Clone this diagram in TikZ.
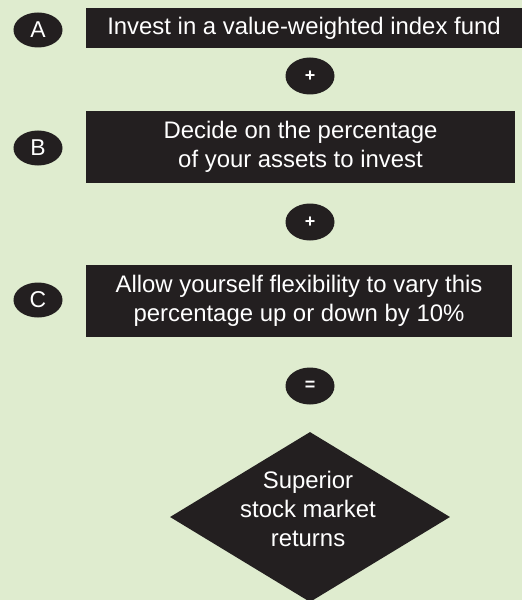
\documentclass[tikz,border=0pt]{standalone}
\usepackage{fontspec}
\setmainfont{Liberation Sans}
\usetikzlibrary{shapes.geometric}
\definecolor{paper}{RGB}{223,236,207}
\definecolor{ink}{RGB}{35,31,32}
\tikzset{
  stepbox/.style={fill=ink, text=white, align=center, inner sep=0pt,
    minimum height=#1, font=\fontsize{24}{29}\selectfont},
  stepbox/.default=40bp,
  tag/.style={ellipse, fill=ink, text=white, inner sep=0pt,
    minimum width=49bp, minimum height=35bp, font=\fontsize{23}{26}\selectfont},
  sign/.style={ellipse, fill=ink, text=white, inner sep=0pt,
    minimum width=49bp, minimum height=37bp, font=\fontsize{18}{20}\selectfont\bfseries},
}
\begin{document}
\begin{tikzpicture}[x=1bp,y=-1bp]
	% Background
	\fill [paper] (0,0) rectangle (522,600);
	\useasboundingbox (0,0) rectangle (522,600);
	% Steps
	\node [stepbox, minimum width=436bp] (stepA) at (304,28) {Invest in a value-weighted index fund};
	\node [stepbox=72bp, minimum width=429bp] (stepB) at (300.5,147) {Decide on the percentage\\of your assets to invest};
	\node [stepbox=72bp, minimum width=426bp] (stepC) at (299,301) {Allow yourself flexibility to vary this\\percentage up or down by 10\%};
	% Letters
	\node [tag] (tagA) at (38,30) {A};
	\node [tag] (tagB) at (38,148) {B};
	\node [tag] (tagC) at (38,300) {C};
	% Signs
	\node [sign] (plusA) at (310,76) {+};
	\node [sign] (plusB) at (310,222) {+};
	\node [sign] (equal) at (310,386) {=};
	% Result
	\node [diamond, fill=ink, inner sep=0pt, minimum width=280bp, minimum height=170bp] (goal) at (310,517) {};
	\node [text=white, align=center, font=\fontsize{24}{29}\selectfont] (goaltext) at (308,509) {Superior\\stock market\\returns};
\end{tikzpicture}
\end{document}
